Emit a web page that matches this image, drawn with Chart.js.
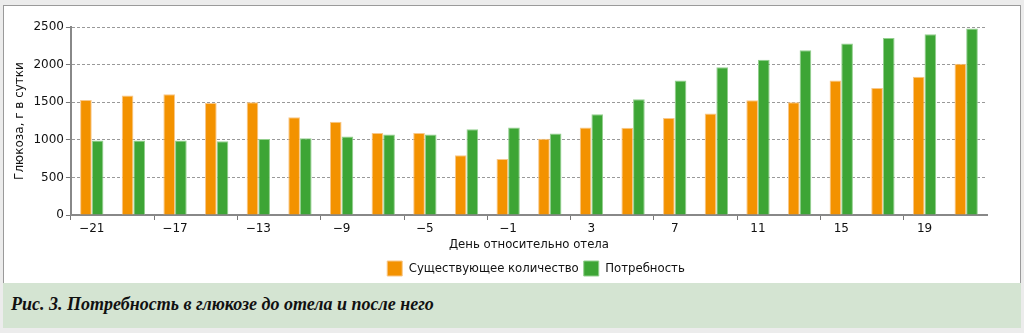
<!DOCTYPE html>
<html>
<head>
<meta charset="utf-8">
<script src="https://cdn.jsdelivr.net/npm/chart.js@4/dist/chart.umd.min.js"></script>
<style>
  html, body { margin: 0; padding: 0; }
  body { width: 1024px; height: 333px; background: #ececec; position: relative; overflow: hidden; }
  #panel { position: absolute; left: 3px; top: 5px; width: 1016px; height: 278px; background: #fff;
           border: 1px solid #9a9a9a; border-bottom: none; }
  #caption { position: absolute; left: 3px; top: 283px; width: 1018px; height: 45px; background: #d4e4d2; }
  #caption span { position: absolute; left: 8px; top: 11px; font: italic bold 18px "Liberation Serif", serif; color: #111; }
  #wrap { position: absolute; left: 0; top: 0; width: 1024px; height: 288px; }
</style>
</head>
<body>
<div id="panel"></div>
<div id="caption"><span>Рис. 3. Потребность в глюкозе до отела и после него</span></div>
<div id="wrap"><canvas id="myChart"></canvas></div>
<script>
// дни относительно отела
var days = [-21, -19, -17, -15, -13, -11, -9, -7, -5, -3, -1, 1, 3, 5, 7, 9, 11, 13, 15, 17, 19, 21];
// существующее количество глюкозы, г в сутки
var existing = [1530, 1590, 1605, 1490, 1500, 1300, 1240, 1090, 1090, 795, 745, 1015, 1165, 1160, 1290, 1350, 1525, 1500, 1790, 1690, 1840, 2010];
// потребность в глюкозе, г в сутки
var demand = [990, 990, 990, 980, 1010, 1020, 1045, 1070, 1070, 1140, 1165, 1085, 1340, 1540, 1790, 1965, 2065, 2190, 2280, 2355, 2405, 2480];
var yTicks = [0, 500, 1000, 1500, 2000, 2500];

var labels = days.map(d => d < 0 ? '\u2212' + Math.abs(d) : String(d));

var chartData = {
  labels: labels,
  datasets: [{
    label: 'Существующее количество',
    data: existing,
    backgroundColor: '#f39200',
    borderColor: '#f8c789',
    borderWidth: 1,
    categoryPercentage: 0.56,
    barPercentage: 1.0
  }, {
    label: 'Потребность',
    data: demand,
    backgroundColor: '#3da535',
    borderColor: '#93cf8e',
    borderWidth: 1,
    categoryPercentage: 0.56,
    barPercentage: 1.0
  }]
};

var tickFont = { family: 'DejaVu Sans', size: 12 };

// легенда в оригинале немного правее центра
var legendShift = {
  id: 'legendShift',
  afterLayout: chart => {
    chart.legend.left += 36;
    chart.legend.right += 36;
  }
};

var chartOptions = {
  responsive: false,
  animation: false,
  layout: { padding: { left: 13, right: 37, top: 27, bottom: 2 } },
  plugins: {
    tooltip: { enabled: false },
    legend: {
      position: 'bottom',
      labels: {
        boxWidth: 15,
        boxHeight: 15,
        padding: 5,
        color: '#111',
        font: { family: 'DejaVu Sans Condensed', size: 13 }
      }
    }
  },
  scales: {
    x: {
      offset: true,
      grid: {
        offset: true,
        drawOnChartArea: false,
        drawTicks: true,
        tickLength: 5,
        tickColor: ctx => (ctx.index % 2 === 0 ? '#777' : 'rgba(0,0,0,0)'),
        tickWidth: 1
      },
      border: { color: '#888', width: 2 },
      ticks: {
        autoSkip: false,
        maxRotation: 0,
        padding: 2,
        color: '#111',
        font: tickFont,
        callback: (v, i) => (i % 2 === 0 ? labels[i] : '')
      },
      title: {
        display: true,
        text: 'День относительно отела',
        color: '#111',
        font: { family: 'DejaVu Sans Condensed', size: 13 },
        padding: { top: -2, bottom: 4 }
      }
    },
    y: {
      min: 0,
      max: 2500,
      afterBuildTicks: axis => { axis.ticks = yTicks.map(v => ({ value: v })); },
      grid: {
        color: '#999',
        tickColor: '#777',
        tickLength: 5,
        tickBorderDash: []
      },
      border: { color: '#888', width: 2, dash: [3, 2] },
      ticks: { padding: 2, color: '#111', font: tickFont, callback: v => String(v) },
      title: {
        display: true,
        text: 'Глюкоза, г в сутки',
        color: '#111',
        font: { family: 'DejaVu Sans', size: 12 },
        padding: { top: 0, bottom: 4 }
      }
    }
  }
};

var canvas = document.getElementById('myChart');
canvas.width = 1024;
canvas.height = 288;
var ctx = canvas.getContext('2d');
var myChart = new Chart(ctx, {
  type: 'bar',
  data: chartData,
  options: chartOptions,
  plugins: [legendShift]
});
</script>
</body>
</html>
